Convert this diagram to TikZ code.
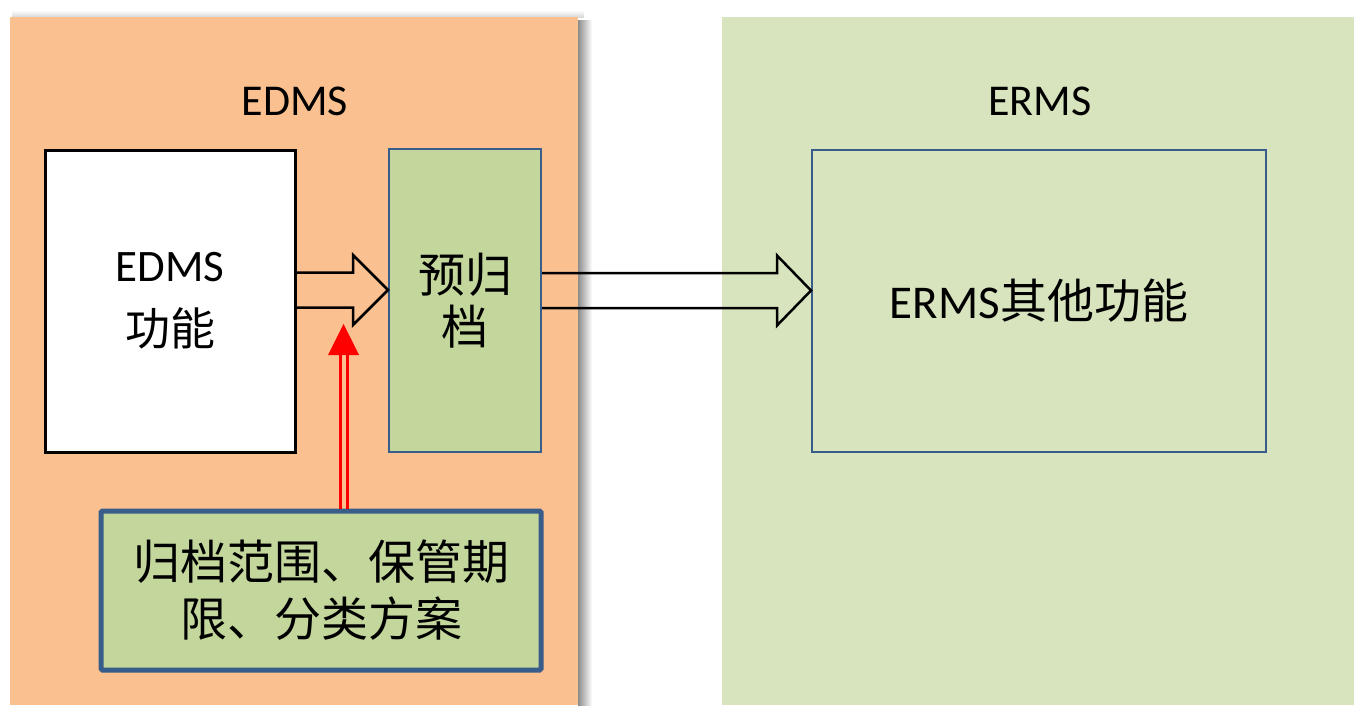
\documentclass[tikz,border=0pt]{standalone}
\usepackage{fontspec}
\setmainfont{Carlito}
\newfontfamily\cjk{Noto Sans CJK SC}
\usetikzlibrary{calc}
\definecolor{panelorange}{HTML}{FAC090}
\definecolor{panelgreen}{HTML}{D7E4BD}
\definecolor{boxgreen}{HTML}{C3D69B}
\definecolor{boxblue}{HTML}{385D8A}
\tikzset{
  panel/.style={draw=none, inner sep=0pt, outer sep=0pt},
  title/.style={inner sep=0pt, font=\fontsize{44}{52}\selectfont},
  whitebox/.style={draw=black, line width=3pt, fill=white, inner sep=0pt, align=center},
  greenbox/.style={draw=boxblue, line width=2pt, fill=boxgreen, inner sep=0pt, align=center},
  ermsbox/.style={draw=boxblue, line width=2pt, fill=panelgreen, inner sep=0pt, align=center},
  rulebox/.style={draw=boxblue, line width=5pt, rounded corners=1.5pt, fill=boxgreen, inner sep=0pt, align=center},
  blockarr/.style={draw=black, line width=2.5pt, line join=miter},
  redline/.style={draw=red, line width=3pt}
}
\begin{document}
\begin{tikzpicture}[x=1pt,y=-1pt]
\useasboundingbox (0,0) rectangle (1354,705);
\fill[white] (0,0) rectangle (1354,705);
% shadows of the left panel
\shade[left color=black!45, right color=white] (578,20) rectangle (592,705);
\shade[top color=white, bottom color=black!15] (12,10) rectangle (584,17);
% panels
\node[panel, fill=panelorange, minimum width=568pt, minimum height=688pt] (edmspanel) at (294,361) {};
\node[panel, fill=panelgreen, minimum width=632pt, minimum height=688pt] (ermspanel) at (1038,361) {};
% titles
\node[title] (edmstitle) at (295,101) {EDMS};
\node[title] (ermstitle) at (1040,101) {ERMS};
% boxes
\node[whitebox, minimum width=250pt, minimum height=302pt, font=\fontsize{45}{64}\selectfont] (edms) at (170,301) {EDMS\\{\cjk 功能}};
\node[greenbox, minimum width=152pt, minimum height=303pt, font=\fontsize{47}{52}\selectfont\cjk] (pre) at (465,300.5) {预归\\档};
\node[ermsbox, minimum width=454pt, minimum height=302pt, font=\fontsize{47}{56}\selectfont] (erms) at (1039,301) {ERMS{\cjk 其他功能}};
\node[rulebox, minimum width=440pt, minimum height=159pt, font=\fontsize{47}{57}\selectfont\cjk] (rules) at (321,590.5) {归档范围、保管期\\限、分类方案};
% block arrow 1: EDMS -> pre
\coordinate (a1) at (edms.east |- 0,290);
\coordinate (t1) at (pre.west |- 0,290);
\draw[blockarr] ($(a1)+(0,-17.5)$) -- ($(t1)+(-35,-17.5)$) -- ($(t1)+(-35,-35)$) -- (t1)
  -- ($(t1)+(-35,35)$) -- ($(t1)+(-35,17.5)$) -- ($(a1)+(0,17.5)$);
% block arrow 2: pre -> erms
\coordinate (a2) at (pre.east |- 0,290.5);
\coordinate (t2) at (erms.west |- 0,290.5);
\draw[blockarr] ($(a2)+(0,-17.5)$) -- ($(t2)+(-34,-17.5)$) -- ($(t2)+(-34,-35)$) -- (t2)
  -- ($(t2)+(-34,35)$) -- ($(t2)+(-34,17.5)$) -- ($(a2)+(0,17.5)$);
% red double arrow from rules up
\coordinate (rb) at ($(rules.north)+(22.5,0)$);
\coordinate (rt) at (rb |- 0,324);
\draw[redline] ($(rb)+(-3.5,0)$) -- ($(rt)+(-3.5,31)$);
\draw[redline] ($(rb)+(3.5,0)$) -- ($(rt)+(3.5,31)$);
\fill[red] (rt) -- ($(rt)+(-15.5,31)$) -- ($(rt)+(15.5,31)$) -- cycle;
\end{tikzpicture}
\end{document}
